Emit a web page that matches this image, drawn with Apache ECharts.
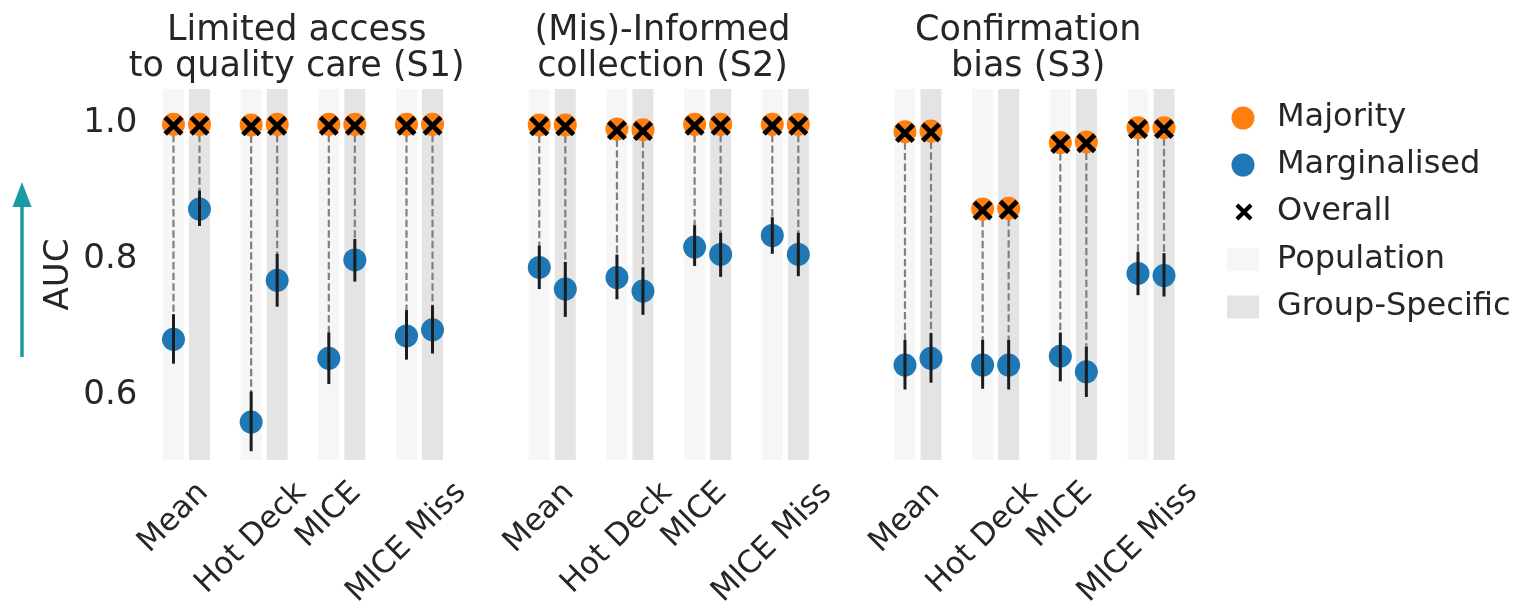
<!DOCTYPE html>
<html>
<head>
<meta charset="utf-8">
<script src="https://cdn.jsdelivr.net/npm/echarts@6/dist/echarts.min.js"></script>
<style>
  html, body { margin: 0; padding: 0; background: #ffffff; }
  #chart { width: 1517px; height: 614px; }
</style>
</head>
<body>
<div id="chart"></div>
<script>
// Imputation strategies (x categories) and scenarios (one panel each)
const methods = ['Mean', 'Hot Deck', 'MICE', 'MICE Miss'];
const scenarios = [
  'Limited access\nto quality care (S1)',
  '(Mis)-Informed\ncollection (S2)',
  'Confirmation\nbias (S3)'
];
const yTicks = [0.6, 0.8, 1.0];

// AUC per scenario (rows) and method (columns); "Pop" = population-wide imputation,
// "Gs" = group-specific imputation
const majorityPop = [
  [0.999, 0.998, 0.999, 0.999],
  [0.998, 0.992, 0.999, 0.999],
  [0.988, 0.874, 0.972, 0.994]
];
const majorityGs = [
  [0.999, 0.999, 0.999, 0.999],
  [0.998, 0.991, 0.999, 0.999],
  [0.989, 0.875, 0.973, 0.994]
];
const overallPop = [
  [0.997, 0.996, 0.997, 0.997],
  [0.996, 0.990, 0.997, 0.997],
  [0.986, 0.872, 0.970, 0.992]
];
const overallGs = [
  [0.997, 0.997, 0.997, 0.997],
  [0.996, 0.989, 0.997, 0.997],
  [0.987, 0.873, 0.971, 0.992]
];
const marginalisedPop = [
  [0.682, 0.560, 0.654, 0.687],
  [0.788, 0.773, 0.818, 0.835],
  [0.644, 0.644, 0.657, 0.779]
];
const marginalisedGs = [
  [0.874, 0.769, 0.799, 0.696],
  [0.756, 0.753, 0.807, 0.807],
  [0.654, 0.644, 0.634, 0.776]
];
const marginalisedPopLow = [
  [0.646, 0.517, 0.616, 0.652],
  [0.756, 0.741, 0.790, 0.808],
  [0.608, 0.609, 0.620, 0.747]
];
const marginalisedPopHigh = [
  [0.719, 0.605, 0.692, 0.725],
  [0.820, 0.807, 0.850, 0.862],
  [0.681, 0.681, 0.692, 0.811]
];
const marginalisedGsLow = [
  [0.849, 0.730, 0.767, 0.661],
  [0.715, 0.718, 0.774, 0.775],
  [0.618, 0.608, 0.597, 0.745]
];
const marginalisedGsHigh = [
  [0.901, 0.808, 0.830, 0.732],
  [0.796, 0.788, 0.839, 0.839],
  [0.691, 0.681, 0.671, 0.809]
];

// Styling / layout
const FONT = 'DejaVu Sans';
const TEXT = '#262626';
const ORANGE = '#ff7f0e';
const BLUE = '#1f77b4';
const POP_BAND = '#f6f6f6';
const GS_BAND = '#e4e4e4';
const TEAL = '#1a9ba1';
const GS_SHIFT = 0.335;     // group-specific marks sit right of the population marks
const BAND_HALF = 0.135;    // half width of the shaded strips (x units)
const X_MIN = -0.4, X_MAX = 3.6;
const Y_MIN = 0.504, Y_MAX = 1.051;
const GRID_LEFT = [142.4, 508.2, 873.9];
const GRID_W = 310.7;
const GRID_TOP = 89, GRID_BOTTOM = 154;
const LABEL_SIZE = 31;
const X_MARK = 'path://M0,1.7L1.7,0L5,3.3L8.3,0L10,1.7L6.7,5L10,8.3L8.3,10L5,6.7L1.7,10L0,8.3L3.3,5Z';

// Rotated tick labels are centred under their tick, top edge at a fixed distance
// from the axis: longer labels are pushed further down with per-label padding.
const measureCtx = document.createElement('canvas').getContext('2d');
function textWidth(s, size) {
  measureCtx.font = size + 'px "' + FONT + '"';
  return measureCtx.measureText(s).width;
}
const labelRich = {};
methods.forEach((m, i) => {
  const w = textWidth(m, LABEL_SIZE);
  labelRich['m' + i] = {
    fontFamily: FONT, fontSize: LABEL_SIZE, color: TEXT,
    padding: [w / 2, w / 2, 0, 0]
  };
});

const grids = [], xAxes = [], yAxes = [], series = [];

function bandItem(color) {
  return function (params, api) {
    const x = api.value(0);
    const p1 = api.coord([x - BAND_HALF, Y_MAX]);
    const p2 = api.coord([x + BAND_HALF, Y_MIN]);
    return {
      type: 'rect',
      shape: { x: p1[0], y: p1[1], width: p2[0] - p1[0], height: p2[1] - p1[1] },
      style: { fill: color }
    };
  };
}

scenarios.forEach((title, g) => {
  grids.push({ left: GRID_LEFT[g], width: GRID_W, top: GRID_TOP, bottom: GRID_BOTTOM });
  xAxes.push({
    type: 'value', gridIndex: g, min: X_MIN, max: X_MAX,
    axisLine: { show: false }, splitLine: { show: false },
    axisTick: { show: false, customValues: methods.map((_, i) => i) },
    axisLabel: {
      customValues: methods.map((_, i) => i),
      rotate: 45, align: 'center', verticalAlign: 'middle', margin: 28,
      formatter: v => '{m' + Math.round(v) + '|' + methods[Math.round(v)] + '}',
      rich: labelRich
    }
  });
  yAxes.push({
    type: 'value', gridIndex: g, min: Y_MIN, max: Y_MAX,
    axisLine: { show: false }, axisTick: { show: false }, splitLine: { show: false },
    axisLabel: {
      show: g === 0, customValues: yTicks, margin: 5,
      formatter: v => v.toFixed(1),
      fontFamily: FONT, fontSize: 34, color: TEXT
    },
    name: g === 0 ? 'AUC' : '',
    nameLocation: 'middle', nameRotate: 90, nameGap: 66,
    nameTextStyle: { fontFamily: FONT, fontSize: 34, color: TEXT }
  });

  const popX = methods.map((_, i) => i);
  const gsX = methods.map((_, i) => i + GS_SHIFT);
  const common = { xAxisIndex: g, yAxisIndex: g, silent: true };

  series.push(Object.assign({
    name: 'Population', type: 'custom', z: 1,
    itemStyle: { color: POP_BAND },
    renderItem: bandItem(POP_BAND),
    data: popX.map(x => [x])
  }, common));
  series.push(Object.assign({
    name: 'Group-Specific', type: 'custom', z: 1,
    itemStyle: { color: GS_BAND },
    renderItem: bandItem(GS_BAND),
    data: gsX.map(x => [x])
  }, common));

  // Dashed connector between majority and marginalised AUC
  series.push(Object.assign({
    type: 'custom', z: 2,
    renderItem: (params, api) => {
      const a = api.coord([api.value(0), api.value(1)]);
      const b = api.coord([api.value(0), api.value(2)]);
      return {
        type: 'line',
        shape: { x1: a[0], y1: a[1], x2: b[0], y2: b[1] },
        style: { stroke: '#808080', lineWidth: 2.2, lineDash: [7.4, 3.2] }
      };
    },
    data: popX.map((x, i) => [x, majorityPop[g][i], marginalisedPop[g][i]])
      .concat(gsX.map((x, i) => [x, majorityGs[g][i], marginalisedGs[g][i]]))
  }, common));

  series.push(Object.assign({
    name: 'Marginalised', type: 'scatter', z: 3,
    symbol: 'circle', symbolSize: 23,
    itemStyle: { color: BLUE, opacity: 1 },
    data: popX.map((x, i) => [x, marginalisedPop[g][i]])
      .concat(gsX.map((x, i) => [x, marginalisedGs[g][i]]))
  }, common));

  // Confidence interval of the marginalised AUC
  series.push(Object.assign({
    type: 'custom', z: 4,
    renderItem: (params, api) => {
      const a = api.coord([api.value(0), api.value(1)]);
      const b = api.coord([api.value(0), api.value(2)]);
      return {
        type: 'line',
        shape: { x1: a[0], y1: a[1], x2: b[0], y2: b[1] },
        style: { stroke: '#1c1c1c', lineWidth: 3 }
      };
    },
    data: popX.map((x, i) => [x, marginalisedPopLow[g][i], marginalisedPopHigh[g][i]])
      .concat(gsX.map((x, i) => [x, marginalisedGsLow[g][i], marginalisedGsHigh[g][i]]))
  }, common));

  series.push(Object.assign({
    name: 'Majority', type: 'scatter', z: 5,
    symbol: 'circle', symbolSize: 23,
    itemStyle: { color: ORANGE, opacity: 1 },
    data: popX.map((x, i) => [x, majorityPop[g][i]])
      .concat(gsX.map((x, i) => [x, majorityGs[g][i]]))
  }, common));

  series.push(Object.assign({
    name: 'Overall', type: 'scatter', z: 6,
    symbol: X_MARK, symbolSize: 20,
    itemStyle: { color: '#000000', opacity: 1 },
    data: popX.map((x, i) => [x, overallPop[g][i]])
      .concat(gsX.map((x, i) => [x, overallGs[g][i]]))
  }, common));
});

// Legend entries, one component each so every icon keeps its own size
const legendEntries = [
  { name: 'Majority', icon: 'circle', color: ORANGE, w: 23, h: 23, left: 1231.5, cy: 117 },
  { name: 'Marginalised', icon: 'circle', color: BLUE, w: 23, h: 23, left: 1231.5, cy: 164 },
  { name: 'Overall', icon: X_MARK, color: '#000000', w: 17, h: 17, left: 1235.5, cy: 211 },
  { name: 'Population', icon: 'rect', color: POP_BAND, w: 32, h: 23, left: 1227, cy: 258.5 },
  { name: 'Group-Specific', icon: 'rect', color: GS_BAND, w: 32, h: 23, left: 1227, cy: 306 }
];
const TEXT_X = 1277;
const legends = legendEntries.map(e => ({
  data: [{ name: e.name, icon: e.icon, itemStyle: { color: e.color } }],
  left: e.left, top: e.cy - 17, padding: 0,
  itemWidth: e.w, itemHeight: e.h, selectedMode: false,
  textStyle: {
    fontFamily: FONT, fontSize: 32, color: TEXT, lineHeight: 36,
    padding: [0, 0, 0, TEXT_X - e.left - e.w - 5]
  }
}));

// Panel titles and the "higher is better" arrow beside the y axis
const graphics = scenarios.map((title, g) => ({
  type: 'text',
  x: GRID_LEFT[g] + GRID_W / 2 - 1,
  y: 13,
  style: {
    text: title, textAlign: 'center', textVerticalAlign: 'top',
    fontFamily: FONT, fontSize: 35, lineHeight: 36, fill: TEXT
  }
}));
graphics.push({
  type: 'group',
  children: [
    { type: 'line', shape: { x1: 22, y1: 357, x2: 22, y2: 200 }, style: { stroke: TEAL, lineWidth: 3.5 } },
    { type: 'polygon', shape: { points: [[22, 182], [12.5, 207], [31.5, 207]] }, style: { fill: TEAL } }
  ]
});

const chart = echarts.init(document.getElementById('chart'), null, { renderer: 'canvas' });
chart.setOption({
  animation: false,
  backgroundColor: '#ffffff',
  textStyle: { fontFamily: FONT },
  grid: grids,
  xAxis: xAxes,
  yAxis: yAxes,
  legend: legends,
  graphic: graphics,
  series: series
});
</script>
</body>
</html>
